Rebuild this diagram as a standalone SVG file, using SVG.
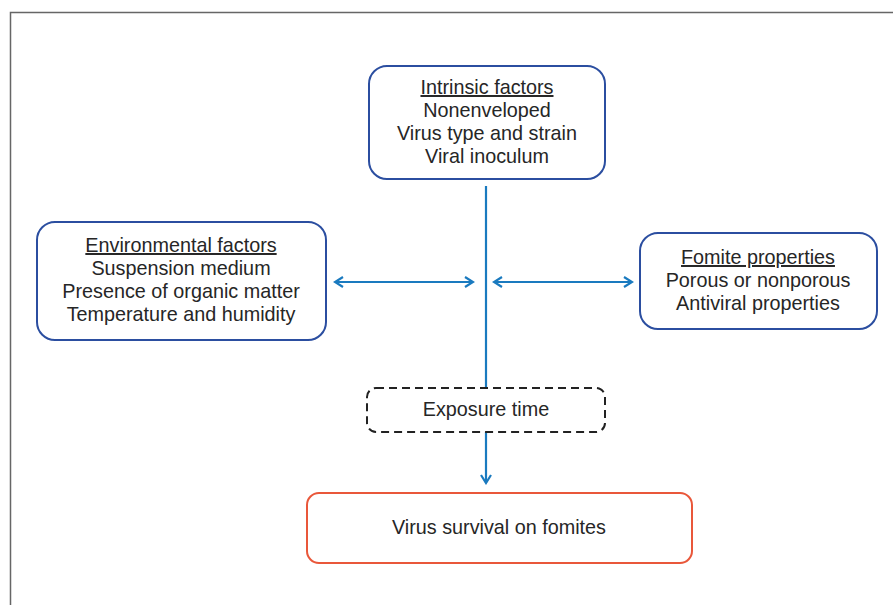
<svg xmlns="http://www.w3.org/2000/svg" width="893" height="605" viewBox="0 0 893 605">
<style>
.box{fill:#fff;stroke:#2b4ea0;stroke-width:2}
.dash{fill:#fff;stroke:#222;stroke-width:2;stroke-dasharray:8 5}
.red{fill:#fff;stroke:#e9573a;stroke-width:2}
text{font-family:"Liberation Sans",Arial,sans-serif;font-size:19.8px;fill:#262626;text-anchor:middle}
.u{text-decoration:underline}
.c{stroke:#1a7abf;stroke-width:2.2;fill:none}
</style>
<defs>
<marker id="ah" viewBox="0 0 12 12" refX="10" refY="6" markerWidth="12" markerHeight="12" markerUnits="userSpaceOnUse" orient="auto-start-reverse">
<path d="M2,1 L10,6 L2,11" fill="none" stroke="#1a7abf" stroke-width="2.2"/>
</marker>
</defs>
<rect width="893" height="605" fill="#fff"/>
<path d="M10.5,605 V12.5 H893" fill="none" stroke="#666" stroke-width="1.5"/>
<g id="connectors">
<line class="c" x1="486" y1="186" x2="486" y2="388"/>
<line class="c" x1="486" y1="432" x2="486" y2="483" marker-end="url(#ah)"/>
<line class="c" x1="335" y1="282" x2="473" y2="282" marker-start="url(#ah)" marker-end="url(#ah)"/>
<line class="c" x1="494" y1="282" x2="632" y2="282" marker-start="url(#ah)" marker-end="url(#ah)"/>
</g>
<g id="intrinsic">
<rect class="box" x="369" y="66" width="236" height="113" rx="18"/>
<text x="487" y="94" class="u">Intrinsic factors</text>
<text x="487" y="117">Nonenveloped</text>
<text x="487" y="140">Virus type and strain</text>
<text x="487" y="163">Viral inoculum</text>
</g>
<g id="environmental">
<rect class="box" x="37" y="222" width="289" height="118" rx="18"/>
<text x="181" y="252" class="u">Environmental factors</text>
<text x="181" y="275">Suspension medium</text>
<text x="181" y="298">Presence of organic matter</text>
<text x="181" y="321">Temperature and humidity</text>
</g>
<g id="fomite">
<rect class="box" x="640" y="233" width="237" height="96" rx="18"/>
<text x="758" y="264" class="u">Fomite properties</text>
<text x="758" y="287">Porous or nonporous</text>
<text x="758" y="310">Antiviral properties</text>
</g>
<g id="exposure">
<rect class="dash" x="367" y="388" width="238" height="44" rx="9"/>
<text x="486" y="416">Exposure time</text>
</g>
<g id="survival">
<rect class="red" x="307" y="493" width="385" height="70" rx="12"/>
<text x="499" y="534">Virus survival on fomites</text>
</g>
</svg>
